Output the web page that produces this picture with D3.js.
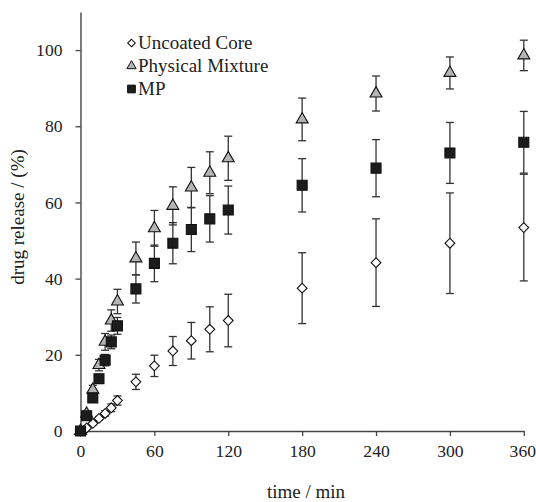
<!DOCTYPE html>
<html><head><meta charset="utf-8">
<script src="https://cdn.jsdelivr.net/npm/d3@7/dist/d3.min.js"></script>
<style>body{margin:0;background:#fff}svg{display:block}</style>
</head><body>
<svg id="chart" width="536" height="502"></svg>
<script>
const times = [0, 5, 10, 15, 20, 25, 30, 45, 60, 75, 90, 105, 120, 180, 240, 300, 360];
const xTicks = [0, 60, 120, 180, 240, 300, 360];
const yTicks = [0, 20, 40, 60, 80, 100];

const uncoatedMean = [0, 0.8, 2.0, 3.3, 4.6, 6.1, 8.0, 12.9, 17.1, 21.0, 23.7, 26.7, 29.0, 37.5, 44.2, 49.3, 53.4];
const uncoatedErr  = [0, 0.3, 0.4, 0.5, 0.7, 1.0, 1.2, 2.0, 2.8, 3.8, 4.8, 5.9, 6.9, 9.3, 11.5, 13.2, 14.0];
const physMean = [0, 4.5, 10.8, 17.3, 23.4, 29.0, 34.0, 45.3, 53.2, 59.1, 63.9, 67.8, 71.6, 81.8, 88.6, 94.0, 98.6];
const physErr  = [0, 0.5, 1.2, 1.5, 2.2, 2.8, 3.2, 4.3, 4.7, 5.0, 5.3, 5.5, 5.8, 5.6, 4.6, 4.2, 4.0];
const mpMean = [0, 4.0, 8.7, 13.7, 18.6, 23.4, 27.6, 37.3, 44.0, 49.3, 52.9, 55.7, 58.0, 64.5, 69.0, 73.0, 75.8];
const mpErr  = [0, 0.5, 1.0, 1.2, 1.5, 1.8, 2.2, 3.7, 4.8, 5.4, 5.8, 6.1, 6.3, 7.0, 7.5, 8.0, 8.1];

const seriesNames = ["Uncoated Core", "Physical Mixture", "MP"];

const svg = d3.select("#chart");
const font = "'Liberation Serif','Times New Roman',serif";
const x = d3.scaleLinear().domain([0, 360]).range([80.5, 523.8]);
const y = d3.scaleLinear().domain([0, 110]).range([431, 12]);
const axisColor = "#444";

// axes
const xAxis = svg.append("g").attr("transform", "translate(0,431)")
  .call(d3.axisBottom(x).tickValues(xTicks).tickSize(5).tickPadding(9).tickSizeOuter(0));
const yAxis = svg.append("g").attr("transform", "translate(80.5,0)")
  .call(d3.axisLeft(y).tickValues(yTicks).tickSize(5).tickPadding(13).tickSizeOuter(0));
[xAxis, yAxis].forEach(g => {
  g.attr("font-family", font);
  g.select(".domain").attr("stroke", axisColor).attr("stroke-width", 1.4);
  g.selectAll(".tick line").attr("stroke", axisColor).attr("stroke-width", 1.3);
  g.selectAll(".tick text").attr("font-family", font).attr("font-size", 17.6).attr("fill", "#222");
});
xAxis.selectAll(".tick text").filter(d => d === 360).attr("dx", -1.5);

svg.append("text").attr("x", 306).attr("y", 498).attr("text-anchor", "middle")
  .attr("font-family", font).attr("font-size", 19).attr("fill", "#222").text("time / min");
svg.append("text").attr("transform", "translate(24,217) rotate(-90)").attr("text-anchor", "middle")
  .attr("font-family", font).attr("font-size", 19).attr("fill", "#222").text("drug release / (%)");

const series = [
  {name: seriesNames[0], mean: uncoatedMean, err: uncoatedErr, type: d3.symbolSquare, size: 48, rot: 45, fill: "#fff"},
  {name: seriesNames[1], mean: physMean, err: physErr, type: d3.symbolTriangle, size: 62, rot: 0, fill: "#b4b4b4"},
  {name: seriesNames[2], mean: mpMean, err: mpErr, type: d3.symbolSquare, size: 100, rot: 0, fill: "#1c1c1c"}
];

const capW = 4;
// error bars first
series.forEach(s => {
  const g = svg.append("g").attr("stroke", "#333").attr("stroke-width", 1.3).attr("fill", "none");
  times.forEach((t, i) => {
    if (s.err[i] <= 0) return;
    const cx = x(t), top = y(s.mean[i] + s.err[i]), bot = y(s.mean[i] - s.err[i]);
    g.append("line").attr("x1", cx).attr("x2", cx).attr("y1", top).attr("y2", bot);
    g.append("line").attr("x1", cx - capW).attr("x2", cx + capW).attr("y1", top).attr("y2", top);
    g.append("line").attr("x1", cx - capW).attr("x2", cx + capW).attr("y1", bot).attr("y2", bot);
  });
});
// markers
series.forEach(s => {
  const sym = d3.symbol().type(s.type).size(s.size);
  svg.append("g").selectAll("path").data(times).join("path")
    .attr("d", sym)
    .attr("transform", (t, i) => `translate(${x(t)},${y(s.mean[i])}) rotate(${s.rot})`)
    .attr("fill", s.fill).attr("stroke", "#111").attr("stroke-width", 1.1);
});

// legend
const legY = [43, 66, 89];
series.forEach((s, i) => {
  const sym = d3.symbol().type(s.type).size(s.size * 0.6);
  svg.append("path").attr("d", sym)
    .attr("transform", `translate(131.5,${legY[i]}) rotate(${s.rot})`)
    .attr("fill", s.fill).attr("stroke", "#111").attr("stroke-width", 1);
  svg.append("text").attr("x", 138).attr("y", legY[i] + 6)
    .attr("font-family", font).attr("font-size", 19).attr("fill", "#222").text(s.name);
});
</script>
</body></html>
